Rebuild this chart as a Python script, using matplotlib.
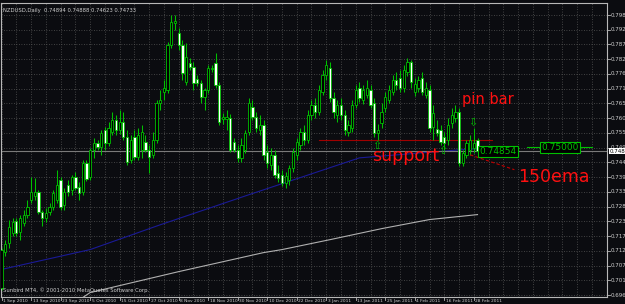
import matplotlib
matplotlib.use("Agg")
import matplotlib.pyplot as plt
from matplotlib.patches import Rectangle
import matplotlib.transforms as mtransforms

# ---------------- data ----------------
opens = [0.6991, 0.7122, 0.7154, 0.7190, 0.7234, 0.7194, 0.7227, 0.7256, 0.7310, 0.7324,
         0.7339, 0.7267, 0.7245, 0.7267, 0.7285, 0.7310, 0.7382, 0.7292, 0.7364, 0.7346,
         0.7393, 0.7357, 0.7339, 0.7444, 0.7393, 0.7491, 0.7516, 0.7502, 0.7563, 0.7516,
         0.7556, 0.7600, 0.7563, 0.7592, 0.7538, 0.7455, 0.7538, 0.7466, 0.7491, 0.7520,
         0.7491, 0.7473, 0.7527, 0.7661, 0.7701, 0.7708, 0.7871, 0.7951, 0.7915, 0.7871,
         0.7737, 0.7806, 0.7792, 0.7748, 0.7733, 0.7683, 0.7708, 0.7784, 0.7806, 0.7726,
         0.7603, 0.7603, 0.7607, 0.7520, 0.7491, 0.7462, 0.7491, 0.7556, 0.7647, 0.7610,
         0.7563, 0.7581, 0.7484, 0.7437, 0.7473, 0.7408, 0.7400, 0.7371, 0.7382, 0.7426,
         0.7473, 0.7509, 0.7556, 0.7527, 0.7618, 0.7654, 0.7628, 0.7701, 0.7762, 0.7788,
         0.7679, 0.7618, 0.7654, 0.7618, 0.7556, 0.7570, 0.7654, 0.7715, 0.7672, 0.7690,
         0.7708, 0.7661, 0.7552, 0.7589, 0.7643, 0.7672, 0.7701, 0.7744, 0.7752, 0.7715,
         0.7773, 0.7810, 0.7701, 0.7715, 0.7752, 0.7690, 0.7708, 0.7574, 0.7567, 0.7563,
         0.7538, 0.7527, 0.7589, 0.7607, 0.7628, 0.7444, 0.7473, 0.7491, 0.7498, 0.7527]
highs = [0.7136, 0.7165, 0.7238, 0.7245, 0.7245, 0.7256, 0.7274, 0.7310, 0.7393, 0.7389,
         0.7346, 0.7274, 0.7281, 0.7299, 0.7346, 0.7419, 0.7393, 0.7353, 0.7382, 0.7400,
         0.7411, 0.7375, 0.7455, 0.7455, 0.7498, 0.7534, 0.7527, 0.7563, 0.7574, 0.7592,
         0.7628, 0.7618, 0.7636, 0.7628, 0.7563, 0.7545, 0.7563, 0.7570, 0.7581, 0.7545,
         0.7509, 0.7556, 0.7672, 0.7708, 0.7744, 0.7882, 0.7980, 0.7980, 0.7933, 0.7889,
         0.7878, 0.7824, 0.7810, 0.7762, 0.7744, 0.7715, 0.7799, 0.7799, 0.7842, 0.7737,
         0.7625, 0.7636, 0.7621, 0.7534, 0.7509, 0.7534, 0.7563, 0.7679, 0.7672, 0.7628,
         0.7618, 0.7600, 0.7509, 0.7498, 0.7491, 0.7437, 0.7419, 0.7411, 0.7437, 0.7498,
         0.7534, 0.7570, 0.7581, 0.7636, 0.7672, 0.7679, 0.7726, 0.7781, 0.7817, 0.7810,
         0.7701, 0.7672, 0.7679, 0.7636, 0.7600, 0.7672, 0.7726, 0.7737, 0.7726, 0.7744,
         0.7726, 0.7679, 0.7585, 0.7661, 0.7701, 0.7726, 0.7762, 0.7773, 0.7781, 0.7799,
         0.7824, 0.7817, 0.7752, 0.7759, 0.7773, 0.7737, 0.7726, 0.7654, 0.7600, 0.7581,
         0.7556, 0.7607, 0.7643, 0.7654, 0.7643, 0.7491, 0.7527, 0.7545, 0.7570, 0.7534]
lows = [0.6984, 0.7107, 0.7136, 0.7179, 0.7179, 0.7165, 0.7216, 0.7245, 0.7299, 0.7310,
        0.7259, 0.7216, 0.7230, 0.7256, 0.7274, 0.7299, 0.7274, 0.7274, 0.7324, 0.7328,
        0.7346, 0.7310, 0.7328, 0.7378, 0.7382, 0.7462, 0.7491, 0.7473, 0.7491, 0.7505,
        0.7545, 0.7545, 0.7549, 0.7527, 0.7437, 0.7444, 0.7455, 0.7455, 0.7462, 0.7484,
        0.7408, 0.7462, 0.7516, 0.7636, 0.7672, 0.7697, 0.7860, 0.7925, 0.7853, 0.7744,
        0.7726, 0.7781, 0.7708, 0.7723, 0.7661, 0.7636, 0.7697, 0.7773, 0.7715, 0.7581,
        0.7585, 0.7563, 0.7484, 0.7484, 0.7448, 0.7448, 0.7480, 0.7545, 0.7600, 0.7556,
        0.7545, 0.7455, 0.7426, 0.7419, 0.7389, 0.7375, 0.7361, 0.7353, 0.7364, 0.7411,
        0.7455, 0.7491, 0.7509, 0.7516, 0.7600, 0.7607, 0.7618, 0.7690, 0.7744, 0.7665,
        0.7607, 0.7592, 0.7600, 0.7545, 0.7541, 0.7556, 0.7643, 0.7665, 0.7657, 0.7679,
        0.7643, 0.7538, 0.7527, 0.7570, 0.7628, 0.7661, 0.7690, 0.7708, 0.7701, 0.7701,
        0.7759, 0.7715, 0.7686, 0.7701, 0.7690, 0.7679, 0.7556, 0.7527, 0.7541, 0.7509,
        0.7491, 0.7509, 0.7570, 0.7592, 0.7433, 0.7433, 0.7462, 0.7473, 0.7480, 0.7473]
closes = [0.7129, 0.7151, 0.7212, 0.7230, 0.7190, 0.7245, 0.7256, 0.7285, 0.7339, 0.7339,
          0.7267, 0.7245, 0.7263, 0.7285, 0.7335, 0.7364, 0.7285, 0.7339, 0.7339, 0.7393,
          0.7353, 0.7335, 0.7444, 0.7386, 0.7491, 0.7516, 0.7502, 0.7552, 0.7516, 0.7570,
          0.7600, 0.7563, 0.7592, 0.7538, 0.7448, 0.7527, 0.7466, 0.7545, 0.7556, 0.7491,
          0.7466, 0.7527, 0.7661, 0.7672, 0.7715, 0.7871, 0.7954, 0.7958, 0.7871, 0.7770,
          0.7828, 0.7792, 0.7733, 0.7733, 0.7683, 0.7708, 0.7788, 0.7788, 0.7726, 0.7592,
          0.7610, 0.7610, 0.7491, 0.7491, 0.7462, 0.7509, 0.7552, 0.7661, 0.7610, 0.7570,
          0.7581, 0.7473, 0.7444, 0.7473, 0.7400, 0.7389, 0.7371, 0.7397, 0.7426, 0.7484,
          0.7520, 0.7556, 0.7527, 0.7618, 0.7654, 0.7628, 0.7708, 0.7762, 0.7799, 0.7679,
          0.7628, 0.7654, 0.7618, 0.7563, 0.7581, 0.7654, 0.7708, 0.7679, 0.7708, 0.7715,
          0.7654, 0.7552, 0.7563, 0.7628, 0.7683, 0.7708, 0.7744, 0.7726, 0.7715, 0.7781,
          0.7810, 0.7737, 0.7730, 0.7744, 0.7701, 0.7715, 0.7570, 0.7625, 0.7552, 0.7520,
          0.7516, 0.7581, 0.7618, 0.7628, 0.7444, 0.7480, 0.7516, 0.7527, 0.7516, 0.74854]

date_labels = ["1 Sep 2010", "13 Sep 2010", "23 Sep 2010", "5 Oct 2010", "15 Oct 2010",
               "27 Oct 2010", "8 Nov 2010", "18 Nov 2010", "30 Nov 2010", "10 Dec 2010",
               "22 Dec 2010", "3 Jan 2011", "13 Jan 2011", "25 Jan 2011", "4 Feb 2011",
               "16 Feb 2011", "28 Feb 2011"]
date_label_bars = [0, 8, 16, 24, 32, 40, 48, 56, 64, 72, 80, 88, 96, 104, 112, 120, 128]

price_labels = ["0.79805", "0.79270", "0.78735", "0.78200", "0.77665", "0.77130", "0.76595",
                "0.76060", "0.75525", "0.74990", "0.74455", "0.73920", "0.73385", "0.72850",
                "0.72315", "0.71780", "0.71245", "0.70710", "0.70175", "0.69640"]

ema150_bars = [0, 24, 43, 67, 97, 124, 129]
ema150_vals = [0.7057, 0.7129, 0.7219, 0.7328, 0.7462, 0.7491, 0.7495]
slow_ma_bars = [22, 24, 48, 71, 76, 89, 103, 116, 129]
slow_ma_vals = [0.6955, 0.6973, 0.7049, 0.7118, 0.7129, 0.7165, 0.7205, 0.7238, 0.7256]

support_level = 0.7527
bid_price = 0.74854
level_box = 0.75000
title_text = "NZDUSD,Daily  0.74894 0.74888 0.74623 0.74733"
footer_text = "Sunbird MT4, \u00a9 2001-2010 MetaQuotes Software Corp."

# ---------------- styling ----------------
BG = "#0b0c10"
GREEN = "#00c000"
GRID = "#555555"
FRAME = "#b8b8b8"
TXT = "#d0d0d0"

fig = plt.figure(figsize=(6.25, 3.04), dpi=100, facecolor=BG)
ax = fig.add_axes([1 / 625, 1 - 296.5 / 304, 606 / 625, 293.5 / 304])
ax.set_facecolor(BG)
ax.set_xlim(-0.16, 164.1)
ax.set_ylim(0.69587, 0.80241)

# grid
for gx in range(0, 165, 4):
    ax.axvline(gx, color=GRID, lw=0.6, ls=(0, (1, 2)), zorder=0)
for s in price_labels:
    ax.axhline(float(s), color=GRID, lw=0.6, ls=(0, (1, 2)), zorder=0)

for sp in ax.spines.values():
    sp.set_color(FRAME)
    sp.set_linewidth(0.8)
ax.set_xticks([])
ax.set_yticks([])

# moving averages
ax.plot(slow_ma_bars, slow_ma_vals, color="#b0b0b0", lw=0.8, zorder=1)
ax.plot(ema150_bars, ema150_vals, color="#1a1a96", lw=0.8, zorder=1)

# bid line
ax.axhline(bid_price, color="#7a7a7a", lw=0.8, zorder=1)

# support line
ax.plot([86, 133], [support_level, support_level], color="#a00000", lw=0.8, zorder=1)

# candles
w = 0.62
for i, (o, h, l, c) in enumerate(zip(opens, highs, lows, closes)):
    ax.plot([i, i], [l, h], color=GREEN, lw=0.75, zorder=2, solid_capstyle="butt")
    bottom = min(o, c)
    height = max(abs(c - o), 0.00012)
    face = "#000000" if c >= o else "#ffffff"
    ax.add_patch(Rectangle((i - w / 2, bottom), w, height, facecolor=face,
                           edgecolor=GREEN, lw=0.6, zorder=3))

# red dashed pointer for the ema
ax.plot([127, 139], [0.7473, 0.7419], color="#c00000", lw=0.8, ls=(0, (3, 2)), zorder=2)

# annotations
ax.text(124.8, 0.7672, "pin bar", color="#ff1010", fontsize=10.5, va="center", ha="left", zorder=5)
ax.text(100.4, 0.7468, "support", color="#ff1010", fontsize=12.5, va="center", ha="left", zorder=5)
ax.text(140.0, 0.7393, "150ema", color="#ff1010", fontsize=12.5, va="center", ha="left", zorder=5)

ax.text(101.6, 0.7506, "\u21e7", color=GREEN, fontsize=8, ha="center", va="center", zorder=5)
ax.text(119.7, 0.7487, "\u21e7", color=GREEN, fontsize=8, ha="center", va="center", zorder=5)
ax.text(127.8, 0.7590, "\u21e9", color=GREEN, fontsize=8, ha="center", va="center", zorder=5)

# price boxes
ax.text(129.6, bid_price, "0.74854", color=GREEN, fontsize=6.5, va="center", ha="left", zorder=6,
        bbox=dict(boxstyle="square,pad=0.15", facecolor="#000000", edgecolor=GREEN, lw=0.8))
ax.plot([142.5, 160], [level_box, level_box], color=GREEN, lw=0.8, zorder=4)
ax.text(146.4, level_box, "0.75000", color=GREEN, fontsize=6.5, va="center", ha="left", zorder=6,
        bbox=dict(boxstyle="square,pad=0.15", facecolor="#000000", edgecolor=GREEN, lw=0.8))

# title / footer
ax.text(0.004, 0.983, title_text, transform=ax.transAxes, color=TXT, fontsize=3.8,
        va="top", ha="left")
ax.text(0.004, 0.012, footer_text, transform=ax.transAxes, color=TXT, fontsize=3.8,
        va="bottom", ha="left")

# date axis labels
trans_x = mtransforms.blended_transform_factory(ax.transData, ax.transAxes)
for b, lab in zip(date_label_bars, date_labels):
    ax.plot([b, b], [0, -0.012], transform=trans_x, color=FRAME, lw=0.6, clip_on=False)
    ax.text(b + 0.4, -0.008, lab, transform=trans_x, color=TXT, fontsize=3.2,
            va="top", ha="left", clip_on=False)

# price axis labels
trans_y = mtransforms.blended_transform_factory(ax.transAxes, ax.transData)
for s in price_labels:
    v = float(s)
    ax.plot([1.0, 1.005], [v, v], transform=trans_y, color=FRAME, lw=0.6, clip_on=False)
    ax.text(1.006, v, s, transform=trans_y, color=TXT, fontsize=4.0,
            va="center", ha="left", clip_on=False)
ax.text(1.004, bid_price, "0.74854", transform=trans_y, color="#000000", fontsize=4.0,
        va="center", ha="left", clip_on=False, zorder=7,
        bbox=dict(boxstyle="square,pad=0.1", facecolor="#ffffff", edgecolor="none"))

fig.savefig("out.png", dpi=100, facecolor=BG)
